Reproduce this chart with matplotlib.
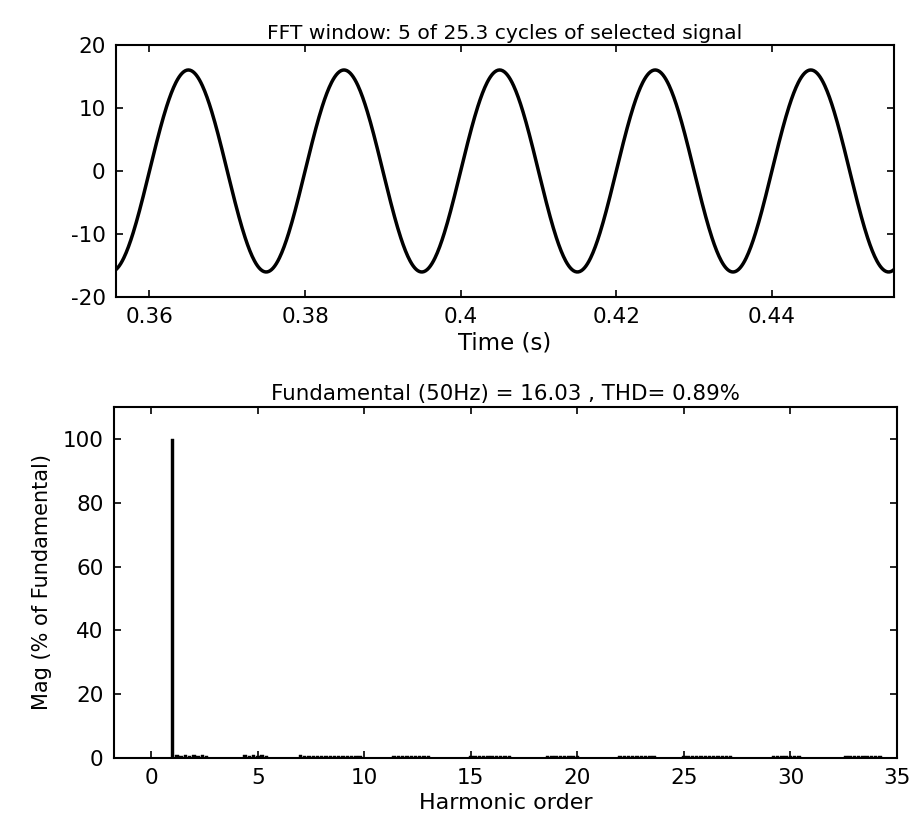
import numpy as np
import matplotlib
matplotlib.use("Agg")
import matplotlib.pyplot as plt

plt.rcParams['font.family'] = ['DejaVu Sans']
plt.rcParams['axes.unicode_minus'] = False

# ---- signal / FFT settings -------------------------------------------
f0 = 50.0                 # fundamental frequency (Hz)
fundamental_amp = 16.03   # fundamental peak value
thd_percent = 0.89
n_cycles = 5
total_cycles = 25.3
t_start = 0.3557          # start of FFT window (s)
Ts = 1e-4                 # sample time (s)

# ---- spectrum (% of fundamental), bins every 0.2 harmonic, 0 .. 35 ----
bin_step = 0.2
spectrum = [
    0.10, 0.05, 0.05, 0.05, 0.05, 100.0, 0.85, 0.75, 0.85, 0.75,
    0.85, 0.75, 0.85, 0.75, 0.05, 0.05, 0.05, 0.05, 0.05, 0.05,
    0.05, 0.05, 0.85, 0.75, 0.85, 0.75, 0.85, 0.75, 0.05, 0.05,
    0.05, 0.05, 0.05, 0.05, 0.05, 1.00, 0.75, 0.65, 0.75, 0.65,
    0.75, 0.65, 0.75, 0.65, 0.75, 0.65, 0.75, 0.65, 0.75, 0.65,
    0.05, 0.05, 0.05, 0.05, 0.05, 0.05, 0.05, 0.75, 0.65, 0.75,
    0.65, 0.75, 0.65, 0.75, 0.65, 0.75, 0.05, 0.05, 0.05, 0.05,
    0.05, 0.05, 0.05, 0.05, 0.05, 0.75, 0.65, 0.75, 0.65, 0.75,
    0.65, 0.75, 0.65, 0.75, 0.65, 0.05, 0.05, 0.05, 0.05, 0.05,
    0.05, 0.05, 0.05, 0.75, 0.65, 0.75, 0.65, 0.75, 0.65, 0.75,
    0.65, 0.05, 0.05, 0.05, 0.05, 0.05, 0.05, 0.05, 0.05, 0.05,
    0.75, 0.65, 0.75, 0.65, 0.75, 0.65, 0.75, 0.65, 0.75, 0.05,
    0.05, 0.05, 0.05, 0.05, 0.05, 0.75, 0.65, 0.75, 0.65, 0.75,
    0.65, 0.75, 0.65, 0.75, 0.65, 0.75, 0.65, 0.05, 0.05, 0.05,
    0.05, 0.05, 0.05, 0.05, 0.05, 0.05, 0.75, 0.65, 0.75, 0.65,
    0.75, 0.65, 0.75, 0.05, 0.05, 0.05, 0.05, 0.05, 0.05, 0.05,
    0.05, 0.05, 0.05, 0.75, 0.65, 0.75, 0.65, 0.75, 0.65, 0.75,
    0.65, 0.75, 0.05, 0.05, 0.05, 0.05,
]
orders = np.round(np.arange(len(spectrum)) * bin_step, 1)

time_ticks = [0.36, 0.38, 0.40, 0.42, 0.44]
time_ticklabels = ['0.36', '0.38', '0.4', '0.42', '0.44']
sig_ticks = [-20, -10, 0, 10, 20]
harm_ticks = [0, 5, 10, 15, 20, 25, 30, 35]
mag_ticks = [0, 20, 40, 60, 80, 100]

# ---- time signal over the FFT window ----------------------------------
t_end = t_start + n_cycles / f0
t = np.arange(t_start, t_end + Ts / 2, Ts)
y = fundamental_amp * np.sin(2 * np.pi * f0 * t)

# ---- figure ------------------------------------------------------------
fig = plt.figure(figsize=(9.15, 8.22), dpi=100)
tick_fs = 15.5
tick_kw = dict(direction='in', length=5, width=1.2, top=True, right=True,
               labelsize=tick_fs, pad=7.5)

ax1 = fig.add_axes([0.1268, 0.6387, 0.8503, 0.3066])
ax1.plot(t, y, color='black', lw=2.5)
ax1.set_xlim(t_start, t_end)
ax1.set_ylim(-20, 20)
ax1.set_xticks(time_ticks)
ax1.set_xticklabels(time_ticklabels)
ax1.set_yticks(sig_ticks)
ax1.tick_params(**tick_kw)
ax1.set_xlabel('Time (s)', fontsize=16.5, labelpad=3)
ax1.set_title('FFT window: %d of %.1f cycles of selected signal'
              % (n_cycles, total_cycles), fontsize=14.6, pad=4)

ax2 = fig.add_axes([0.1246, 0.0779, 0.8557, 0.4270])
ax2.bar(orders, spectrum, width=0.16, color='black', edgecolor='black',
        linewidth=0.3)
ax2.set_xlim(-1.75, 35)
ax2.set_ylim(0, 110)
ax2.set_xticks(harm_ticks)
ax2.set_yticks(mag_ticks)
ax2.tick_params(**tick_kw)
ax2.set_xlabel('Harmonic order', fontsize=16, labelpad=3)
ax2.set_ylabel('Mag (% of Fundamental)', fontsize=15, labelpad=8)
ax2.set_title('Fundamental (%dHz) = %.2f , THD= %.2f%%'
              % (f0, fundamental_amp, thd_percent), fontsize=15.4, pad=5)

for ax in (ax1, ax2):
    for s in ax.spines.values():
        s.set_linewidth(1.5)

fig.savefig('out.png', dpi=100, facecolor='white')
